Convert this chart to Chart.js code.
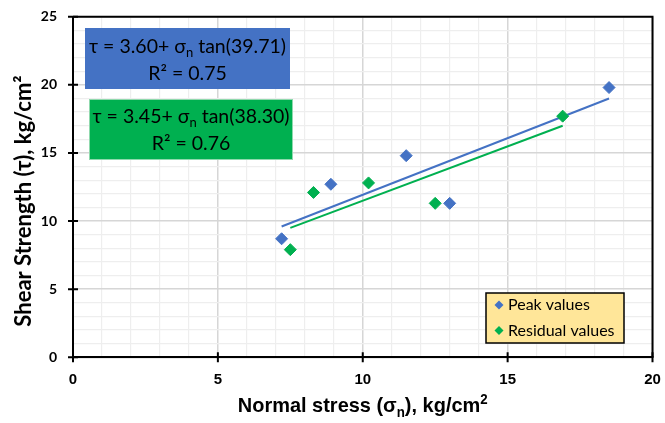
<!DOCTYPE html>
<html>
<head>
<meta charset="utf-8">
<script src="https://cdn.jsdelivr.net/npm/chart.js@4.4.0/dist/chart.umd.min.js"></script>
<style>
  html, body { margin: 0; padding: 0; background: #fff; }
  #wrap { width: 665px; height: 423px; position: relative; }
</style>
</head>
<body>
<div id="wrap"><canvas id="chart" width="665" height="423"></canvas></div>
<script>
// values
const peakStress = [7.2, 8.9, 11.5, 13.0, 18.5];
const peakStrength = [8.7, 12.7, 14.8, 11.3, 19.8];
const residualStress = [7.5, 8.3, 10.2, 12.5, 16.9];
const residualStrength = [7.9, 12.1, 12.8, 11.3, 17.7];

// linear fit end points
const peakFitStress = [7.2, 18.5];
const peakFitStrength = [9.6, 19.0];
const residualFitStress = [7.5, 16.9];
const residualFitStrength = [9.5, 17.0];

const seriesNames = ["Peak values", "Residual values"];
const xLabelTicks = [0, 5, 10, 15, 20];
const yLabelTicks = [0, 5, 10, 15, 20, 25];

const peakEquation = [["τ = 3.60+ σ", ""], ["n", "sub"], [" tan(39.71)", ""]];
const peakR2 = "R² = 0.75";
const residualEquation = [["τ = 3.45+ σ", ""], ["n", "sub"], [" tan(38.30)", ""]];
const residualR2 = "R² = 0.76";

const BLUE = "#4472C4";
const GREEN = "#00B050";
const MAJOR = "#d6d6d6";
const MINOR = "#eeeeee";
const CAL = "Lato, 'Open Sans', sans-serif";
const NARROW = "'Liberation Sans Narrow', 'Liberation Sans', Arial, sans-serif";

const toPoints = (xs, ys) => xs.map((x, i) => ({ x: x, y: ys[i] }));

function drawRuns(ctx, runs, cx, cy, size, family, weight) {
  const fontFor = (kind) => {
    const s = kind ? Math.round(size * 0.65) : size;
    return `${weight} ${s}px ${family}`;
  };
  let total = 0;
  runs.forEach(([t, kind]) => {
    ctx.font = fontFor(kind);
    total += ctx.measureText(t).width;
  });
  let x = cx - total / 2;
  const base = cy + size * 0.35;
  ctx.textAlign = "left";
  ctx.textBaseline = "alphabetic";
  runs.forEach(([t, kind]) => {
    ctx.font = fontFor(kind);
    let y = base;
    if (kind === "sub") y = base + size * 0.22;
    if (kind === "sup") y = base - size * 0.4;
    ctx.fillText(t, x, y);
    x += ctx.measureText(t).width;
  });
}

function diamond(ctx, x, y, r, color) {
  ctx.beginPath();
  ctx.moveTo(x, y - r);
  ctx.lineTo(x + r, y);
  ctx.lineTo(x, y + r);
  ctx.lineTo(x - r, y);
  ctx.closePath();
  ctx.fillStyle = color;
  ctx.fill();
}

const decorations = {
  id: "decorations",
  afterDraw(chart) {
    const ctx = chart.ctx;
    const a = chart.chartArea;
    const xs = chart.scales.x;
    const ys = chart.scales.y;
    ctx.save();

    // frame top / right
    ctx.strokeStyle = "#000";
    ctx.lineWidth = 2;
    ctx.beginPath();
    ctx.moveTo(a.left, a.top);
    ctx.lineTo(a.right, a.top);
    ctx.lineTo(a.right, a.bottom);
    ctx.stroke();

    // crossing tick marks
    ctx.beginPath();
    xLabelTicks.forEach((v) => {
      const px = xs.getPixelForValue(v);
      ctx.moveTo(px, a.bottom - 5);
      ctx.lineTo(px, a.bottom + 5);
    });
    yLabelTicks.forEach((v) => {
      const py = ys.getPixelForValue(v);
      ctx.moveTo(a.left - 5, py);
      ctx.lineTo(a.left + 5, py);
    });
    ctx.stroke();

    // axis titles
    ctx.fillStyle = "#000";
    ctx.save();
    ctx.translate((a.left + a.right) / 2, 405);
    ctx.scale(0.95, 1);
    drawRuns(ctx, [["Normal stress (σ", ""], ["n", "sub"], ["), kg/cm", ""], ["2", "sup"]],
      0, 0, 21, NARROW, "bold");
    ctx.restore();
    ctx.save();
    ctx.translate(23, 201);
    ctx.rotate(-Math.PI / 2);
    drawRuns(ctx, [["Shear Strength (τ), kg/cm²", ""]], 0, 0, 22, CAL, "bold");
    ctx.restore();

    // equation boxes
    ctx.fillStyle = BLUE;
    ctx.fillRect(85, 28, 205, 61);
    ctx.fillStyle = GREEN;
    ctx.fillRect(89, 99, 204, 61);
    ctx.strokeStyle = "#8fd9ad";
    ctx.lineWidth = 1;
    ctx.strokeRect(89.5, 99.5, 203, 60);
    ctx.fillStyle = "#000";
    drawRuns(ctx, peakEquation, 187.5, 46, 19.5, CAL, "normal");
    drawRuns(ctx, [[peakR2, ""]], 187.5, 73, 19.5, CAL, "normal");
    drawRuns(ctx, residualEquation, 191, 116, 19.5, CAL, "normal");
    drawRuns(ctx, [[residualR2, ""]], 191, 143, 19.5, CAL, "normal");

    // legend
    ctx.fillStyle = "#FFE699";
    ctx.fillRect(486, 293, 138, 50);
    ctx.strokeStyle = "#000";
    ctx.lineWidth = 1.5;
    ctx.strokeRect(486, 293, 138, 50);
    const colors = [BLUE, GREEN];
    seriesNames.forEach((name, i) => {
      const ly = 305 + i * 25.5;
      diamond(ctx, 499, ly, 4.5, colors[i]);
      ctx.fillStyle = "#000";
      ctx.font = `16px ${CAL}`;
      ctx.textAlign = "left";
      ctx.textBaseline = "middle";
      ctx.fillText(name, 508, ly);
    });
    ctx.restore();
  },
};

new Chart(document.getElementById("chart"), {
  type: "scatter",
  data: {
    datasets: [
      {
        label: seriesNames[0],
        data: toPoints(peakStress, peakStrength),
        pointStyle: "rectRot",
        pointRadius: 6,
        backgroundColor: BLUE,
        borderColor: BLUE,
        order: 0,
      },
      {
        label: seriesNames[1],
        data: toPoints(residualStress, residualStrength),
        pointStyle: "rectRot",
        pointRadius: 6,
        backgroundColor: GREEN,
        borderColor: GREEN,
        order: 0,
      },
      {
        label: "Peak fit",
        data: toPoints(peakFitStress, peakFitStrength),
        showLine: true,
        pointRadius: 0,
        borderColor: BLUE,
        borderWidth: 2,
        order: 1,
      },
      {
        label: "Residual fit",
        data: toPoints(residualFitStress, residualFitStrength),
        showLine: true,
        pointRadius: 0,
        borderColor: GREEN,
        borderWidth: 2,
        order: 1,
      },
    ],
  },
  options: {
    responsive: false,
    animation: false,
    layout: { padding: { left: 0, right: 12.5, top: 16.7, bottom: 0 } },
    plugins: { legend: { display: false }, tooltip: { enabled: false } },
    scales: {
      x: {
        type: "linear",
        min: 0,
        max: 20,
        afterFit: (s) => { s.height = 65.7; s.paddingLeft = 0; s.paddingRight = 0; },
        ticks: {
          stepSize: 1,
          autoSkip: false,
          maxRotation: 0,
          padding: 14,
          color: "#000",
          font: { family: NARROW, weight: "bold", size: 15 },
          callback: (v) => (xLabelTicks.includes(v) ? v : ""),
        },
        grid: {
          drawTicks: false,
          color: (c) => (xLabelTicks.includes(c.tick.value) ? MAJOR : MINOR),
          lineWidth: (c) => (xLabelTicks.includes(c.tick.value) ? 1.5 : 1.2),
        },
        border: { color: "#000", width: 2 },
      },
      y: {
        type: "linear",
        min: 0,
        max: 25,
        afterFit: (s) => { s.width = 73; s.paddingTop = 0; s.paddingBottom = 0; },
        ticks: {
          stepSize: 1,
          autoSkip: false,
          padding: 16,
          color: "#000",
          font: { family: CAL, weight: "bold", size: 14 },
          callback: (v) => (yLabelTicks.includes(v) ? v : ""),
        },
        grid: {
          drawTicks: false,
          color: (c) => (yLabelTicks.includes(c.tick.value) ? MAJOR : MINOR),
          lineWidth: (c) => (yLabelTicks.includes(c.tick.value) ? 1.5 : 1.2),
        },
        border: { color: "#000", width: 2 },
      },
    },
  },
  plugins: [decorations],
});
</script>
</body>
</html>
